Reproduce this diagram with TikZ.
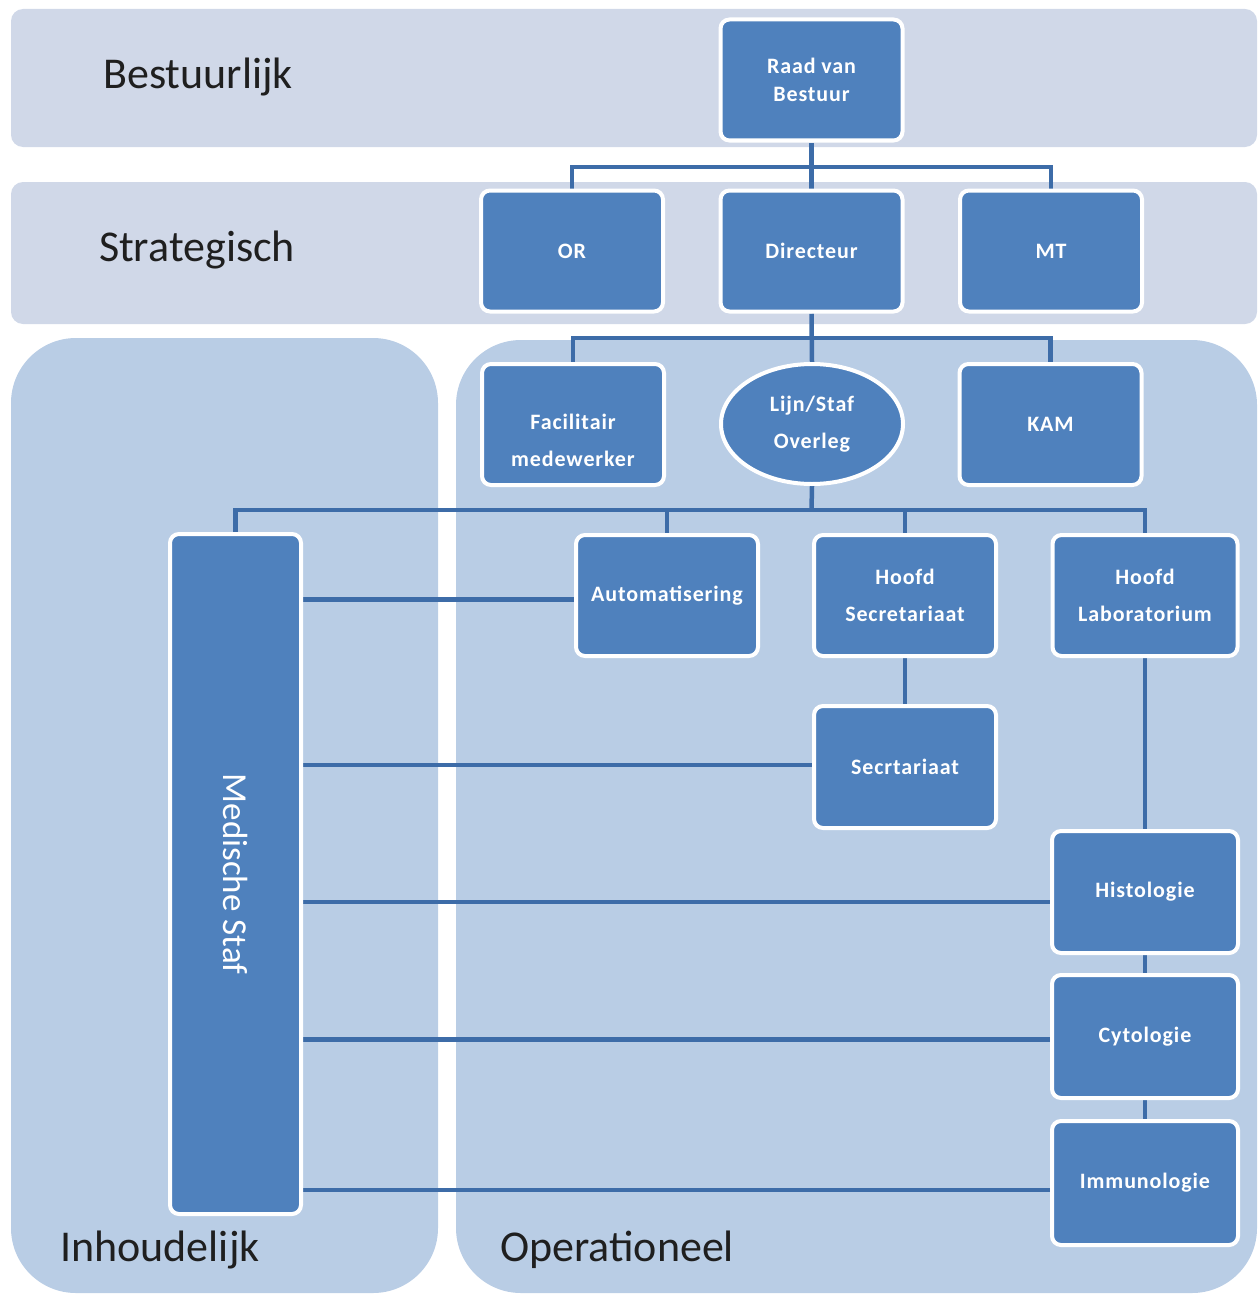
\documentclass[tikz,border=0pt]{standalone}
\usepackage{fontspec}
\setmainfont{Carlito}
\newfontfamily\boxfam[LetterSpace=4]{Carlito}
\usetikzlibrary{shapes.geometric}
\definecolor{boxblue}{HTML}{4F81BD}
\definecolor{lineblue}{HTML}{3D6CA8}
\definecolor{bandgray}{HTML}{D0D8E8}
\definecolor{panelblue}{HTML}{B9CDE5}
\pgfdeclarelayer{back}
\pgfdeclarelayer{wires}
\pgfsetlayers{back,wires,main}
\begin{document}
\begin{tikzpicture}[x=1pt,y=-1pt,
  boxtext/.style={text=white, font=\boxfam\fontsize{22}{37}\selectfont\bfseries, align=center, inner sep=0pt},
  unit/.style={boxtext, draw=white, line width=4pt, fill=boxblue, rounded corners=9pt,
               minimum width=182pt, minimum height=121pt},
  medtext/.style={text=white, font=\fontsize{35}{40}\selectfont, rotate=-90, inner sep=0pt},
  wire/.style={draw=lineblue, line width=4.5pt},
  band/.style={fill=bandgray, rounded corners=12pt},
  panel/.style={fill=panelblue, rounded corners=65pt},
  tier/.style={font=\fontsize{44}{50}\selectfont, text=black!88, inner sep=0pt}]
\useasboundingbox (0,0) rectangle (1258,1295);

% ---- nodes ----
\node[unit, font=\boxfam\fontsize{22}{28}\selectfont\bfseries] (raad) at (811.5,80) {Raad van\\Bestuur};
\node[unit] (or)  at (572,251)    {OR};
\node[unit] (dir) at (811.5,251)  {Directeur};
\node[unit] (mt)  at (1051,251)   {MT};
\node[unit, label={[boxtext, yshift=-16pt]center:Facilitair\\medewerker}] (fac) at (573,424.5) {};
\node[unit, ellipse, rounded corners=0pt, minimum width=182pt, minimum height=120pt] (lijn) at (812,424) {Lijn/Staf\\Overleg};
\node[unit] (kam) at (1050.5,424.5) {KAM};
\node[unit] (auto) at (667,595.5)   {Automatisering};
\node[unit] (hsec) at (905,595.5)   {Hoofd\\Secretariaat};
\node[unit, minimum width=185pt] (hlab) at (1145,595.5) {Hoofd\\Laboratorium};
\node[unit, minimum height=122pt] (secr) at (905,767) {Secrtariaat};
\node[unit, minimum width=186pt, minimum height=122pt] (hist) at (1145,892)    {Histologie};
\node[unit, minimum width=186pt, minimum height=123pt] (cyt)  at (1145,1036.5) {Cytologie};
\node[unit, minimum width=186pt, minimum height=124pt] (imm)  at (1145,1183)   {Immunologie};
\node[unit, minimum width=131pt, minimum height=680pt,
      label={[medtext]center:Medische Staf}] (med) at (235.5,874) {};

% tier labels
\node[tier] (tb) at (198,77)   {Bestuurlijk};
\node[tier] (ts) at (197,250)  {Strategisch};
\node[tier] (ti) at (160,1250) {Inhoudelijk};
\node[tier] (to) at (617,1250) {Operationeel};

% ---- background bands and panels ----
\begin{pgfonlayer}{back}
  \fill[band] (11,9) rectangle (1257,147);
  \fill[band] (11,182) rectangle (1257,324);
  \fill[panel] (11,338) rectangle (438,1293);
  \fill[panel] (456,340) rectangle (1257,1293);
\end{pgfonlayer}

% ---- connectors ----
\coordinate (j1) at (811.5,167);
\coordinate (j2) at (811.5,338);
\coordinate (j3) at (811.5,510);
\coordinate (ca) at ([yshift=-4pt]auto.west);
\coordinate (cs) at ([yshift=2pt]secr.west);
\coordinate (ch) at ([yshift=-10pt]hist.west);
\coordinate (cc) at ([yshift=-3pt]cyt.west);
\coordinate (ci) at ([yshift=-7pt]imm.west);
\begin{pgfonlayer}{wires}
  \draw[wire] (raad.south) -- (dir.north);
  \draw[wire] (or.north) |- (j1) -| (mt.north);
  \draw[wire] (dir.south) -- (lijn.north);
  \draw[wire] (fac.north) |- (j2) -| (kam.north);
  \draw[wire] (lijn.south) -- (j3);
  \draw[wire] (med.north) |- (j3) -| (hlab.north);
  \draw[wire] (auto.north) |- (j3);
  \draw[wire] (hsec.north) |- (j3);
  \draw[wire] (hsec.south) -- (secr.north);
  \draw[wire] (hlab.south) -- (hist.north);
  \draw[wire] (hist.south) -- (cyt.north);
  \draw[wire] (cyt.south) -- (imm.north);
  \draw[wire] (ca) -- (ca -| med.east);
  \draw[wire] (cs) -- (cs -| med.east);
  \draw[wire] (ch) -- (ch -| med.east);
  \draw[wire] (cc) -- (cc -| med.east);
  \draw[wire] (ci) -- (ci -| med.east);
\end{pgfonlayer}
\end{tikzpicture}
\end{document}
